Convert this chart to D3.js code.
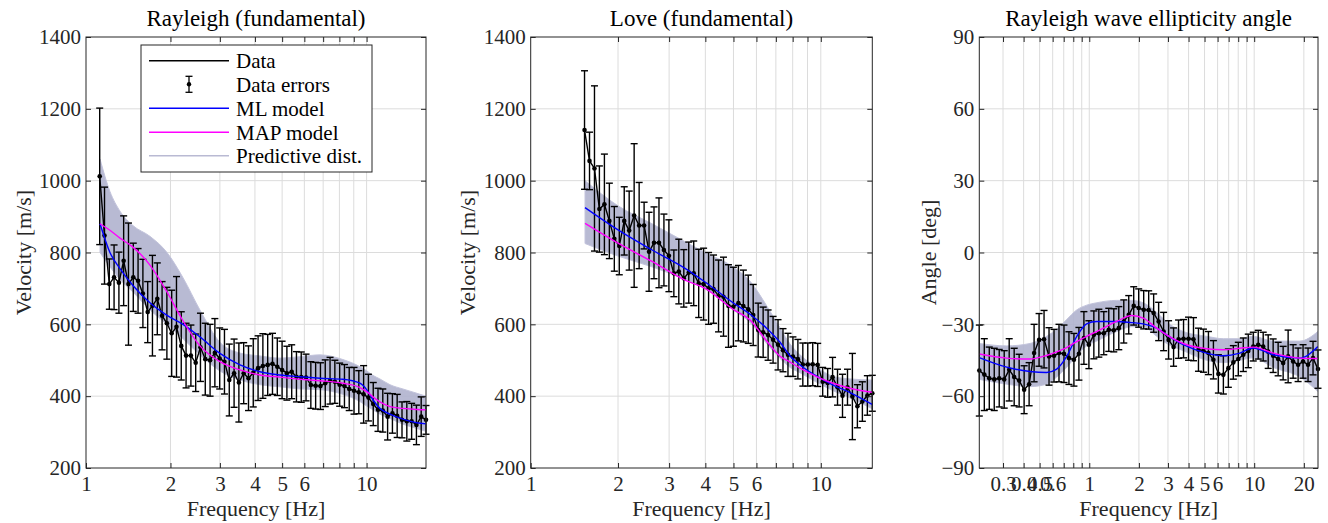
<!DOCTYPE html>
<html>
<head>
<meta charset="utf-8">
<script src="https://cdn.jsdelivr.net/npm/d3@7"></script>
<style>
  body { margin: 0; background: #fff; }
  svg { display: block; font-family: "Liberation Serif", "DejaVu Serif", serif; }
  .grid line { stroke: #dcdcdc; stroke-width: 1; }
  .axis path.domain { display: none; }
  .axis line { stroke: #262626; }
  .axis text { font-size: 21px; fill: #262626; font-family: "Liberation Serif", serif; }
  .title { font-size: 23px; fill: #000; text-anchor: middle; }
  .axis-title { font-size: 22px; fill: #262626; text-anchor: middle; }
  .legend text { font-size: 21px; fill: #000; }
</style>
</head>
<body>
<svg id="chart" width="1328" height="523"></svg>
<script>
// measured frequency grid (Hz), shared by both dispersion curves
const freqGrid = [
  1.119, 1.164, 1.211, 1.259, 1.310, 1.362, 1.417, 1.474, 1.533, 1.595,
  1.659, 1.725, 1.795, 1.867, 1.942, 2.020, 2.101, 2.185, 2.273, 2.365,
  2.460, 2.558, 2.661, 2.768, 2.879, 2.995, 3.115, 3.240, 3.371, 3.506,
  3.647, 3.794, 3.945, 4.104, 4.269, 4.441, 4.619, 4.805, 4.998, 5.199,
  5.408, 5.623, 5.848, 6.083, 6.328, 6.582, 6.847, 7.122, 7.408, 7.706,
  8.016, 8.338, 8.670, 9.018, 9.380, 9.757, 10.15, 10.56, 10.98, 11.42,
  11.88, 12.36, 12.85, 13.37, 13.91, 14.47, 15.05, 15.65, 16.28
];

// Rayleigh (fundamental)
const rayleighVel = [
  1012, 847, 712, 731, 716, 777, 712, 731, 721, 686,
  634, 652, 671, 624, 603, 575, 593, 540, 513, 513,
  493, 536, 503, 500, 521, 505, 496, 445, 464, 438,
  464, 450, 465, 478, 484, 487, 490, 482, 473, 464,
  468, 454, 453, 452, 431, 429, 428, 436, 443, 440,
  432, 428, 420, 415, 411, 405, 396, 378, 362, 360,
  343, 352, 345, 334, 330, 330, 320, 343, 334
];
const rayleighErr = [
  190, 135, 70, 90, 85, 125, 170, 95, 90, 95,
  85, 140, 100, 95, 100, 120, 140, 95, 90, 85,
  80, 95, 100, 100, 95, 85, 90, 100, 95, 110,
  85, 90, 95, 90, 90, 85, 85, 80, 80, 75,
  75, 70, 70, 65, 65, 65, 65, 65, 65, 60,
  60, 60, 60, 65, 60, 80, 65, 60, 60, 60,
  65, 55, 60, 50, 55, 50, 55, 55, 40
];
const rayleighModelFreq = [1.122, 1.217, 1.322, 1.470, 1.690, 1.944, 2.216, 2.547, 3.001, 3.537, 4.168, 4.911, 5.787, 6.818, 8.233, 9.465, 10.03, 10.53, 11.15, 12.11, 13.47, 15.11, 16.27];
const rayleighML =     [880, 800, 755, 708, 660, 625, 600, 565, 519, 487, 468, 459, 454, 450, 447, 436, 417, 390, 366, 350, 336, 326, 323];
const rayleighMAP =    [880, 862, 840, 815, 765, 690, 610, 540, 496, 473, 459, 453, 447, 443, 436, 424, 412, 398, 384, 371, 366, 363, 362];
const rayleighPredHi = [1060, 970, 915, 875, 845, 800, 730, 640, 550, 520, 512, 506, 510, 515, 502, 482, 470, 458, 448, 432, 420, 408, 400];
const rayleighPredLo = [800, 760, 725, 690, 640, 600, 560, 515, 470, 445, 432, 426, 420, 418, 405, 385, 372, 362, 350, 338, 322, 310, 302];

// Love (fundamental)
const loveFreq = freqGrid.slice(8, 67);
const loveVel = [
  1141, 1055, 1034, 921, 934, 888, 838, 818, 888, 861,
  903, 875, 875, 802, 827, 827, 807, 791, 742, 747,
  728, 744, 742, 714, 712, 700, 698, 679, 677, 651,
  649, 659, 651, 642, 626, 584, 578, 570, 557, 543,
  528, 515, 510, 503, 488, 488, 489, 487, 440, 437,
  453, 425, 401, 425, 399, 372, 385, 402, 408
];
const loveErr = [
  165, 80, 230, 120, 140, 105, 90, 80, 95, 110,
  200, 120, 65, 110, 100, 125, 100, 100, 65, 90,
  80, 85, 90, 95, 100, 100, 95, 100, 110, 115,
  110, 105, 100, 95, 85, 75, 70, 70, 65, 70,
  60, 60, 55, 55, 60, 60, 60, 60, 40, 40,
  55, 50, 60, 50, 120, 60, 55, 55, 50
];
const loveModelFreq = [1.539, 2.000, 2.620, 3.405, 3.990, 4.984, 5.705, 6.528, 7.238, 7.838, 8.484, 9.710, 11.03, 12.62, 15.03];
const loveML =     [925, 863, 807, 756, 718, 660, 628, 588, 550, 512, 487, 455, 431, 410, 377];
const loveMAP =    [881, 826, 775, 723, 700, 642, 612, 552, 511, 495, 478, 454, 436, 422, 411];
const lovePredHi = [1000, 930, 880, 830, 800, 760, 720, 650, 590, 545, 515, 480, 455, 448, 445];
const lovePredLo = [825, 790, 760, 725, 700, 640, 605, 545, 505, 480, 465, 438, 415, 395, 365];

// Rayleigh wave ellipticity angle
const ellipFreq = [
  0.2154, 0.2310, 0.2476, 0.2654, 0.2845, 0.3050, 0.3270, 0.3505, 0.3757, 0.4028,
  0.4318, 0.4629, 0.4962, 0.5319, 0.5702, 0.6113, 0.6553, 0.7025, 0.7530, 0.8072,
  0.8654, 0.9279, 0.9947, 1.066, 1.143, 1.225, 1.313, 1.408, 1.510, 1.619,
  1.735, 1.860, 1.994, 2.138, 2.292, 2.457, 2.634, 2.823, 3.027, 3.245,
  3.478, 3.729, 3.997, 4.285, 4.593, 4.924, 5.279, 5.659, 6.066, 6.503,
  6.971, 7.473, 8.011, 8.588, 9.206, 9.869, 10.58, 11.34, 12.16, 13.03,
  13.97, 14.98, 16.06, 17.22, 18.46, 19.78, 21.21, 22.74, 24.37
];
const ellipAngle = [
  -49.3, -51, -52.5, -53, -52.5, -53, -49, -52, -53.5, -57.3,
  -55, -42, -36.5, -36.2, -43.4, -43.1, -42, -42.3, -44.1, -44.8,
  -42.3, -35.7, -38.5, -34.4, -33.7, -33.7, -32.3, -32.5, -31.6, -28.8,
  -26, -22.3, -23.2, -23.9, -24, -25.3, -28.8, -33, -36.5, -39.5,
  -36.2, -36, -36, -36.2, -40.6, -41, -42, -44.8, -50.7, -51.1,
  -48.3, -45.9, -44.5, -42.7, -41.1, -39.3, -38.5, -39.3, -41.4, -43.1,
  -44.5, -46.2, -43.4, -45.5, -46.9, -45.5, -46.9, -44.1, -48.7
];
const ellipErr = [
  19, 15, 13, 13, 12, 12, 13, 12, 11, 10,
  9, 12, 11, 12, 12, 11, 12, 12, 11, 11,
  11, 11, 10, 10, 10, 9, 9, 9, 9, 9,
  8, 8, 8, 8, 8, 8, 8, 8, 8, 8,
  8, 8, 9, 9, 9, 9, 9, 8, 8, 8,
  8, 7, 7, 7, 7, 6, 6, 6, 7, 7,
  7, 7, 11, 7, 7, 7, 7, 7, 8
];
const ellipModelFreq = [0.2154, 0.3158, 0.4371, 0.5517, 0.6345, 0.7295, 0.8388, 0.9643, 1.109, 1.466, 1.807, 2.125, 2.562, 2.945, 3.713, 5.146, 6.489, 8.190, 9.860, 13.04, 18.92, 24.33];
const ellipML =     [-43.9, -47.9, -49.7, -50.1, -48.7, -43.4, -35.1, -29.8, -28.8, -28.8, -29.3, -29.8, -31.6, -34.4, -38.5, -42, -43.1, -42, -39.9, -42.7, -44.1, -39.3];
const ellipMAP =    [-42.4, -44.1, -44.5, -43, -41.5, -39.7, -37.2, -35, -33, -28.8, -26.3, -27.4, -31.6, -34.4, -38, -40.2, -40.6, -40, -39.5, -42, -44.1, -44.3];
const ellipPredHi = [-38, -39, -38, -35, -32, -28, -24, -22, -21, -20, -20, -21, -25, -29, -33, -35, -36, -36, -35, -37, -37, -33];
const ellipPredLo = [-53, -55, -56, -55, -52, -48, -43, -39, -37, -33, -31, -31, -35, -38, -41, -45, -46, -45, -44, -48, -52, -58];

// axis ticks
const velTicks = [200, 400, 600, 800, 1000, 1200, 1400];
const angleTicks = [-90, -60, -30, 0, 30, 60, 90];
const dispXLabels = [1, 2, 3, 4, 5, 6, 10];
const dispXGrid = [2, 3, 4, 5, 6, 7, 8, 9, 10];
const ellipXLabels = [0.3, 0.4, 0.5, 0.6, 1, 2, 3, 4, 5, 6, 10, 20];
const ellipXGrid = [0.3, 0.4, 0.5, 0.6, 0.7, 0.8, 0.9, 1, 2, 3, 4, 5, 6, 7, 8, 9, 10, 20];

const legendItems = ["Data", "Data errors", "ML model", "MAP model", "Predictive dist."];

const COL_ML = "#0000ff";
const COL_MAP = "#ff00ff";
const COL_PRED = "#aeb0cd";

class InversionPanel {
  constructor(_config, _data) {
    this.config = _config;
    this.data = _data;
    this.initVis();
  }

  initVis() {
    let vis = this;
    const c = vis.config;
    vis.width = c.right - c.left;
    vis.height = c.bottom - c.top;

    vis.chart = d3.select(c.parentElement).append("g")
      .attr("transform", `translate(${c.left},${c.top})`);

    vis.xScale = d3.scaleLog().domain(c.xDomain).range([0, vis.width]);
    vis.yScale = d3.scaleLinear().domain(c.yDomain).range([vis.height, 0]);

    vis.chart.append("clipPath").attr("id", c.id + "-clip")
      .append("rect").attr("width", vis.width).attr("height", vis.height);

    // grid
    const grid = vis.chart.append("g").attr("class", "grid");
    grid.selectAll(".gx").data(c.xGrid).join("line")
      .attr("x1", d => vis.xScale(d)).attr("x2", d => vis.xScale(d))
      .attr("y1", 0).attr("y2", vis.height);
    grid.selectAll(".gy").data(c.yTicks.slice(1, -1)).join("line")
      .attr("y1", d => vis.yScale(d)).attr("y2", d => vis.yScale(d))
      .attr("x1", 0).attr("x2", vis.width);

    vis.plot = vis.chart.append("g").attr("clip-path", `url(#${c.id}-clip)`);
    vis.marks = vis.chart.append("g");
    vis.models = vis.chart.append("g").attr("clip-path", `url(#${c.id}-clip)`);

    // axes, ticks pointing inward like the original
    const labelSet = new Set(c.xLabels);
    const xTickVals = c.xDomain[0] <= 1 && c.xLabels.includes(1) && !c.xGrid.includes(1) ? [1, ...c.xGrid] : c.xGrid;
    vis.xAxis = d3.axisBottom(vis.xScale).tickValues(xTickVals)
      .tickSize(-5).tickPadding(8)
      .tickFormat(d => labelSet.has(d) ? String(d) : "");
    vis.xAxisTop = d3.axisTop(vis.xScale).tickValues(c.xGrid).tickSize(-5).tickFormat("");
    vis.yAxis = d3.axisLeft(vis.yScale).tickValues(c.yTicks).tickSize(-5).tickPadding(5)
      .tickFormat(d3.format("d"));
    vis.yAxisR = d3.axisRight(vis.yScale).tickValues(c.yTicks).tickSize(-5).tickFormat("");

    vis.chart.append("g").attr("class", "axis").attr("transform", `translate(0,${vis.height})`).call(vis.xAxis);
    vis.chart.append("g").attr("class", "axis").call(vis.xAxisTop);
    vis.chart.append("g").attr("class", "axis").call(vis.yAxis);
    vis.chart.append("g").attr("class", "axis").attr("transform", `translate(${vis.width},0)`).call(vis.yAxisR);

    vis.chart.append("rect")
      .attr("width", vis.width).attr("height", vis.height)
      .attr("fill", "none").attr("stroke", "#262626").attr("stroke-width", 1);

    vis.chart.append("text").attr("class", "title")
      .attr("x", vis.width / 2).attr("y", -11).text(c.title);
    vis.chart.append("text").attr("class", "axis-title")
      .attr("x", vis.width / 2).attr("y", vis.height + 48).text("Frequency [Hz]");
    vis.chart.append("text").attr("class", "axis-title")
      .attr("transform", `translate(${c.yLabelX},${vis.height / 2}) rotate(-90)`)
      .attr("dy", "0.35em").text(c.yLabel);
  }

  renderVis() {
    let vis = this;
    const d = vis.data;
    const x = vis.xScale, y = vis.yScale;

    const pts = d.freq.map((f, i) => ({ f, v: d.value[i], e: d.err[i] }));
    const model = d.modelFreq.map((f, i) => ({ f, ml: d.ml[i], map: d.map[i], hi: d.hi[i], lo: d.lo[i] }));

    vis.plot.append("path").datum(model)
      .attr("fill", COL_PRED).attr("fill-opacity", 0.88)
      .attr("stroke", "#c3c4dc").attr("stroke-width", 1)
      .attr("d", d3.area().curve(d3.curveMonotoneX)
        .x(m => x(m.f)).y0(m => y(m.lo)).y1(m => y(m.hi)));

    // error bars
    const eb = vis.marks.selectAll(".eb").data(pts).join("g").attr("class", "eb")
      .attr("stroke", "#000").attr("stroke-width", 1.4);
    eb.append("line").attr("x1", p => x(p.f)).attr("x2", p => x(p.f))
      .attr("y1", p => y(p.v - p.e)).attr("y2", p => y(p.v + p.e));
    eb.append("line").attr("x1", p => x(p.f) - 3.5).attr("x2", p => x(p.f) + 3.5)
      .attr("y1", p => y(p.v - p.e)).attr("y2", p => y(p.v - p.e));
    eb.append("line").attr("x1", p => x(p.f) - 3.5).attr("x2", p => x(p.f) + 3.5)
      .attr("y1", p => y(p.v + p.e)).attr("y2", p => y(p.v + p.e));

    vis.marks.append("path").datum(pts)
      .attr("fill", "none").attr("stroke", "#000").attr("stroke-width", 1.4)
      .attr("d", d3.line().x(p => x(p.f)).y(p => y(p.v)));
    vis.marks.selectAll(".dot").data(pts).join("circle").attr("class", "dot")
      .attr("cx", p => x(p.f)).attr("cy", p => y(p.v)).attr("r", 2.3).attr("fill", "#000");

    vis.models.append("path").datum(model)
      .attr("fill", "none").attr("stroke", COL_ML).attr("stroke-width", 1.4)
      .attr("d", d3.line().curve(d3.curveMonotoneX).x(m => x(m.f)).y(m => y(m.ml)));
    vis.models.append("path").datum(model)
      .attr("fill", "none").attr("stroke", COL_MAP).attr("stroke-width", 1.4)
      .attr("d", d3.line().curve(d3.curveMonotoneX).x(m => x(m.f)).y(m => y(m.map)));
  }
}

const svg = d3.select("#chart");

const p1 = new InversionPanel({
  parentElement: "#chart", id: "p1", left: 86, right: 426, top: 37, bottom: 468,
  xDomain: [1, 16.28], yDomain: [200, 1400], yTicks: velTicks,
  xLabels: dispXLabels, xGrid: dispXGrid,
  title: "Rayleigh (fundamental)", yLabel: "Velocity [m/s]", yLabelX: -63
}, { freq: freqGrid, value: rayleighVel, err: rayleighErr, modelFreq: rayleighModelFreq,
     ml: rayleighML, map: rayleighMAP, hi: rayleighPredHi, lo: rayleighPredLo });
p1.renderVis();

const p2 = new InversionPanel({
  parentElement: "#chart", id: "p2", left: 530.7, right: 872.3, top: 37, bottom: 468,
  xDomain: [1, 15.05], yDomain: [200, 1400], yTicks: velTicks,
  xLabels: dispXLabels, xGrid: dispXGrid,
  title: "Love (fundamental)", yLabel: "Velocity [m/s]", yLabelX: -63
}, { freq: loveFreq, value: loveVel, err: loveErr, modelFreq: loveModelFreq,
     ml: loveML, map: loveMAP, hi: lovePredHi, lo: lovePredLo });
p2.renderVis();

const p3 = new InversionPanel({
  parentElement: "#chart", id: "p3", left: 979.3, right: 1318, top: 37, bottom: 468,
  xDomain: [0.2154, 24.37], yDomain: [-90, 90], yTicks: angleTicks,
  xLabels: ellipXLabels, xGrid: ellipXGrid,
  title: "Rayleigh wave ellipticity angle", yLabel: "Angle [deg]", yLabelX: -51
}, { freq: ellipFreq, value: ellipAngle, err: ellipErr, modelFreq: ellipModelFreq,
     ml: ellipML, map: ellipMAP, hi: ellipPredHi, lo: ellipPredLo });
p3.renderVis();

// legend (first panel)
const legend = svg.append("g").attr("class", "legend");
legend.append("rect").attr("x", 141).attr("y", 45).attr("width", 231).attr("height", 127)
  .attr("fill", "#fff").attr("stroke", "#262626").attr("stroke-width", 1);
const rowY = [60.7, 84.3, 108.3, 132.3, 155.7];
const rowColor = ["#000", null, COL_ML, COL_MAP, "#b9bad3"];
legendItems.forEach((label, i) => {
  if (rowColor[i]) {
    legend.append("line").attr("x1", 149).attr("x2", 229).attr("y1", rowY[i]).attr("y2", rowY[i])
      .attr("stroke", rowColor[i]).attr("stroke-width", 1.4);
  } else {
    const g = legend.append("g").attr("stroke", "#000").attr("stroke-width", 1.3);
    g.append("line").attr("x1", 189).attr("x2", 189).attr("y1", rowY[i] - 8).attr("y2", rowY[i] + 8);
    g.append("line").attr("x1", 185.5).attr("x2", 192.5).attr("y1", rowY[i] - 8).attr("y2", rowY[i] - 8);
    g.append("line").attr("x1", 185.5).attr("x2", 192.5).attr("y1", rowY[i] + 8).attr("y2", rowY[i] + 8);
    legend.append("circle").attr("cx", 189).attr("cy", rowY[i]).attr("r", 2.2).attr("fill", "#000");
  }
  legend.append("text").attr("x", 236).attr("y", rowY[i]).attr("dy", "0.35em").text(label);
});
</script>
</body>
</html>
